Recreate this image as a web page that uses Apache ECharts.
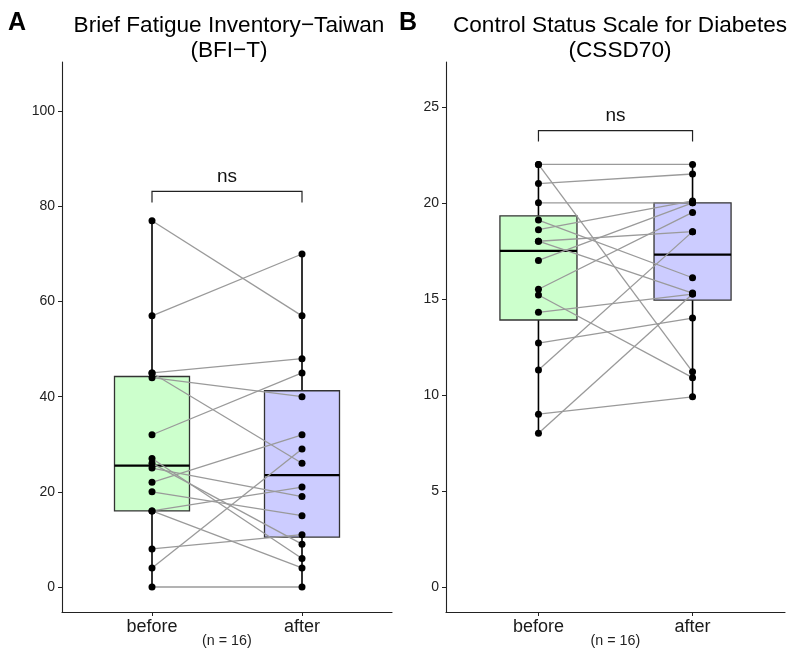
<!DOCTYPE html>
<html>
<head>
<meta charset="utf-8">
<script src="https://cdn.jsdelivr.net/npm/echarts@6/dist/echarts.min.js"></script>
<style>
html,body{margin:0;padding:0;background:#fff;}
#chart{width:795px;height:658px;}
</style>
</head>
<body>
<div id="chart"></div>
<script>
// ---------- data ----------
const categories = ['before', 'after'];
// paired observations (index i in "before" pairs with index i in "after")
const bfiBefore  = [77, 57, 45, 45, 44, 32, 27, 26, 25, 22, 20, 16, 16, 8, 4, 0];
const bfiAfter   = [57, 70, 48, 26, 40, 45, 6, 9, 19, 32, 15, 21, 4, 11, 29, 0];
const cssdBefore = [22, 22, 21, 20, 19.1, 18.6, 18, 18, 17, 15.5, 15.2, 14.3, 12.7, 11.3, 9, 8];
const cssdAfter  = [22, 11.2, 21.5, 20, 16.1, 20.1, 18.5, 15.3, 20, 19.5, 10.9, 15.25, 14, 18.5, 9.9, 15.25];
const bfiTicks  = [0, 20, 40, 60, 80, 100];
const cssdTicks = [0, 5, 10, 15, 20, 25];
const panelTitles = ['Brief Fatigue Inventory\u2212Taiwan\n(BFI\u2212T)', 'Control Status Scale for Diabetes\n(CSSD70)'];
const panelTags = ['A', 'B'];
const testLabel = 'ns';
const nLabel = '(n = 16)';

// ---------- helpers ----------
function quantile(arr, p) {
  const s = arr.slice().sort((a, b) => a - b);
  const h = (s.length - 1) * p;
  const lo = Math.floor(h), hi = Math.ceil(h);
  return s[lo] + (h - lo) * (s[hi] - s[lo]);
}
function boxStats(arr, x) {
  const q1 = quantile(arr, 0.25), med = quantile(arr, 0.5), q3 = quantile(arr, 0.75);
  const iqr = q3 - q1;
  const inside = arr.filter(v => v >= q1 - 1.5 * iqr && v <= q3 + 1.5 * iqr);
  return [x, Math.min(...inside), q1, med, q3, Math.max(...inside)];
}

const FONT = "'Liberation Sans', Arial, sans-serif";
const fills = ['#CCFFCC', '#CCCCFF'];
const BOX_HALF = 0.25;

const panels = [
  { before: bfiBefore, after: bfiAfter, ticks: bfiTicks, yMin: -5.26, yMax: 110.37, titleX: 224, grid: { left: 62, top: 62, width: 330, height: 550 } },
  { before: cssdBefore, after: cssdAfter, ticks: cssdTicks, yMin: -1.3, yMax: 27.33, titleX: 615, grid: { left: 446, top: 62, width: 339, height: 550 } }
];

const grids = [], xAxes = [], yAxes = [], series = [], titles = [], graphics = [];

panels.forEach((p, i) => {
  grids.push(p.grid);
  xAxes.push({
    type: 'value', gridIndex: i, min: 0.4, max: 2.6,
    splitLine: { show: false },
    axisLine: { show: true, onZero: false, lineStyle: { color: '#222', width: 1.1 } },
    axisTick: { show: true, length: 4, customValues: [1, 2], lineStyle: { color: '#222', width: 1 } },
    axisLabel: { customValues: [1, 2], formatter: v => categories[Math.round(v) - 1], color: '#1a1a1a', fontSize: 18, fontFamily: FONT, margin: 6 }
  });
  yAxes.push({
    type: 'value', gridIndex: i, min: p.yMin, max: p.yMax,
    splitLine: { show: false },
    axisLine: { show: true, onZero: false, lineStyle: { color: '#222', width: 1.1 } },
    axisTick: { show: true, length: 4, customValues: p.ticks, lineStyle: { color: '#222', width: 1 } },
    axisLabel: { customValues: p.ticks, color: '#222', fontSize: 14, fontFamily: FONT, margin: 7 }
  });

  // boxes
  const stats = [boxStats(p.before, 1), boxStats(p.after, 2)];
  series.push({
    type: 'custom', xAxisIndex: i, yAxisIndex: i, z: 1, clip: false, silent: true,
    data: stats,
    renderItem: function (params, api) {
      const x = api.value(0), lo = api.value(1), q1 = api.value(2), md = api.value(3), q3 = api.value(4), hi = api.value(5);
      const pLo = api.coord([x, lo]), pHi = api.coord([x, hi]);
      const a = api.coord([x - BOX_HALF, q3]), b = api.coord([x + BOX_HALF, q1]);
      const mL = api.coord([x - BOX_HALF, md]), mR = api.coord([x + BOX_HALF, md]);
      const pQ1 = api.coord([x, q1]), pQ3 = api.coord([x, q3]);
      return {
        type: 'group',
        children: [
          { type: 'line', shape: { x1: pLo[0], y1: pLo[1], x2: pQ1[0], y2: pQ1[1] }, style: { stroke: '#000', lineWidth: 1.6 } },
          { type: 'line', shape: { x1: pQ3[0], y1: pQ3[1], x2: pHi[0], y2: pHi[1] }, style: { stroke: '#000', lineWidth: 1.6 } },
          { type: 'rect', shape: { x: a[0], y: a[1], width: b[0] - a[0], height: b[1] - a[1] }, style: { fill: fills[params.dataIndex], stroke: '#333', lineWidth: 1.3 } },
          { type: 'line', shape: { x1: mL[0], y1: mL[1], x2: mR[0], y2: mR[1] }, style: { stroke: '#000', lineWidth: 2.2 } }
        ]
      };
    }
  });

  // paired lines
  series.push({
    type: 'custom', xAxisIndex: i, yAxisIndex: i, z: 2, clip: false, silent: true,
    data: p.before.map((v, k) => [v, p.after[k]]),
    renderItem: function (params, api) {
      const p1 = api.coord([1, api.value(0)]), p2 = api.coord([2, api.value(1)]);
      return { type: 'line', shape: { x1: p1[0], y1: p1[1], x2: p2[0], y2: p2[1] }, style: { stroke: '#9a9a9a', lineWidth: 1.3 } };
    }
  });

  // points
  series.push({
    type: 'scatter', xAxisIndex: i, yAxisIndex: i, z: 3, silent: true,
    symbol: 'circle', symbolSize: 7, itemStyle: { color: '#000', opacity: 1 },
    data: p.before.map(v => [1, v]).concat(p.after.map(v => [2, v]))
  });

  // significance bracket
  const top = Math.max(...p.before, ...p.after) * 1.08;
  const drop = (p.yMax - p.yMin) * 0.02;
  series.push({
    type: 'custom', xAxisIndex: i, yAxisIndex: i, z: 4, clip: false, silent: true,
    data: [[top, top - drop]],
    renderItem: function (params, api) {
      const yb = api.value(0), yt = api.value(1);
      const a = api.coord([1, yt]), b = api.coord([1, yb]), c = api.coord([2, yb]), d = api.coord([2, yt]);
      const m = api.coord([1.5, yb]);
      return {
        type: 'group',
        children: [
          { type: 'polyline', shape: { points: [a, b, c, d] }, style: { stroke: '#222', lineWidth: 1.2, fill: null } },
          { type: 'text', x: m[0], y: m[1] - 14.5, style: { text: testLabel, fontSize: 19, fontFamily: FONT, fill: '#111', align: 'center', verticalAlign: 'middle' } }
        ]
      };
    }
  });

  const cx = p.grid.left + p.grid.width / 2;
  titles.push({
    text: panelTitles[i], left: p.titleX, top: 8, textAlign: 'center',
    textStyle: { fontSize: 22.6, fontWeight: 'normal', fontFamily: FONT, color: '#000', lineHeight: 25 }
  });
  graphics.push({
    type: 'text', left: cx - 25, top: 634,
    style: { text: nLabel, fontSize: 14.3, fontFamily: FONT, fill: '#222' }
  });
});

graphics.push({ type: 'text', left: 8, top: 11, style: { text: panelTags[0], fontSize: 25, fontWeight: 'bold', fontFamily: FONT, fill: '#000' } });
graphics.push({ type: 'text', left: 399, top: 11, style: { text: panelTags[1], fontSize: 25, fontWeight: 'bold', fontFamily: FONT, fill: '#000' } });

const chart = echarts.init(document.getElementById('chart'), null, { renderer: 'canvas' });
chart.setOption({
  backgroundColor: '#fff',
  animation: false,
  title: titles,
  grid: grids,
  xAxis: xAxes,
  yAxis: yAxes,
  series: series,
  graphic: graphics
});
</script>
</body>
</html>
